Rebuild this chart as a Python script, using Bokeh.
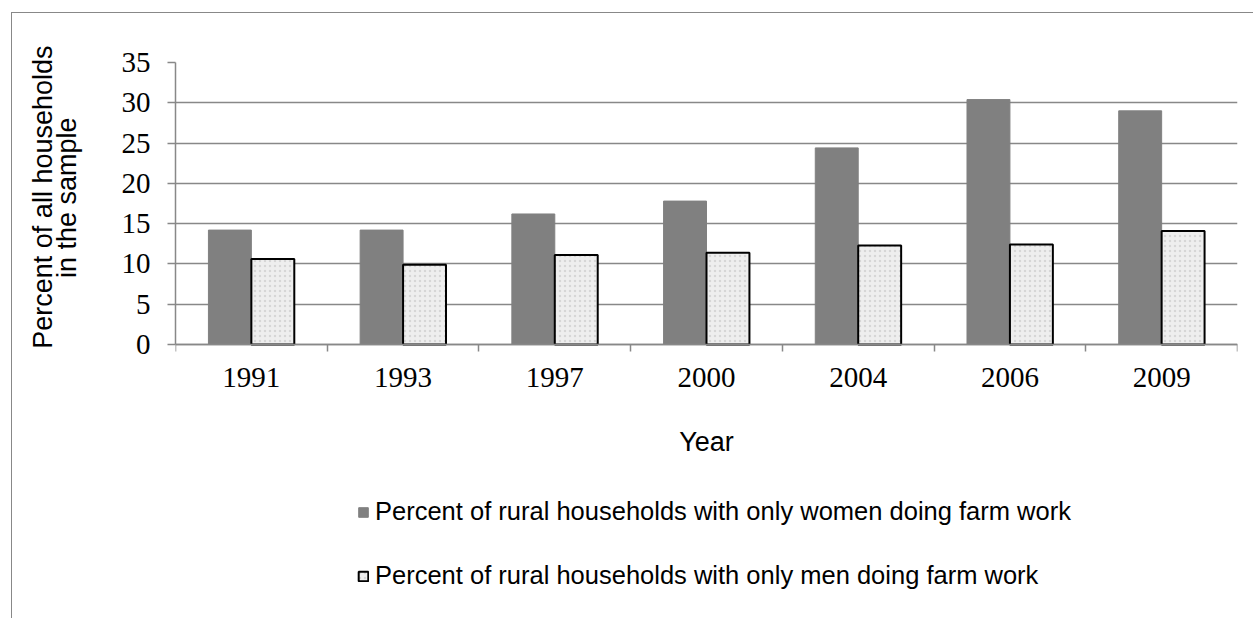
from bokeh.plotting import figure
from bokeh.models import FixedTicker, Legend, LegendItem, Range1d, ColumnDataSource, Title
from bokeh.embed import file_html
from bokeh.resources import INLINE

years = ["1991", "1993", "1997", "2000", "2004", "2006", "2009"]
women = [14.2, 14.2, 16.2, 17.8, 24.4, 30.4, 29.0]
men = [10.6, 9.9, 11.1, 11.4, 12.3, 12.4, 14.1]
y_ticks = [0, 5, 10, 15, 20, 25, 30, 35]
label_women = "Percent of rural households with only women doing farm work"
label_men = "Percent of rural households with only men doing farm work"
y_title_1 = "Percent of all households"
y_title_2 = "in the sample"
x_title = "Year"

n = len(years)
centers = [i + 0.5 for i in range(n)]
bar_w = 0.283
off = 0.1415

# layout constants (window pixels)
FRAME_TOP, AXIS_Y, WIN_H = 62, 344, 619
Y_MAX = 35
plot_px = AXIS_Y - FRAME_TOP
y_min = -Y_MAX * (WIN_H - AXIS_Y) / plot_px   # extend range below 0 so legend sits inside frame

src = ColumnDataSource(dict(
    xw=[c - off for c in centers],
    xm=[c + off for c in centers],
    women=women, men=men,
))

grey = "#888888"

# canvas origin sits at (12, 13) in the window because of margin + 1px border
p = figure(width=1242, height=606, output_backend="svg", toolbar_location=None,
           x_range=Range1d(0, n), y_range=Range1d(y_min, Y_MAX),
           min_border_left=163, min_border_right=17, min_border_top=49, min_border_bottom=0,
           background_fill_color="white", border_fill_color="white",
           margin=(12, 0, 0, 11),
           styles={"border-top": "1px solid #888888", "border-left": "1px solid #888888"})
p.outline_line_color = None

r_w = p.vbar(x="xw", top="women", width=bar_w, source=src,
             fill_color="#808080", line_color="#808080", line_width=1)
r_m = p.vbar(x="xm", top="men", width=bar_w, source=src,
             fill_color="#eeeeee", line_color="black", line_width=2,
             hatch_pattern="dot", hatch_color="#d6d6d6", hatch_scale=5, hatch_weight=1.5)

# grid
p.xgrid.visible = False
p.ygrid.grid_line_color = grey
p.ygrid.grid_line_width = 1.5
p.ygrid.ticker = FixedTicker(ticks=y_ticks)

# y axis (axis label used only as a spacer)
ya = p.yaxis[0]
ya.ticker = FixedTicker(ticks=y_ticks)
ya.bounds = (0, Y_MAX)
ya.axis_line_color = grey
ya.axis_line_width = 1.5
ya.major_tick_line_color = grey
ya.major_tick_line_width = 1.5
ya.major_tick_out = 8
ya.major_tick_in = 0
ya.minor_tick_line_color = None
ya.major_label_text_font = "Liberation Serif"
ya.major_label_text_font_size = "29px"
ya.major_label_text_color = "black"
ya.major_label_standoff = 17
ya.axis_label = " "
ya.axis_label_text_font_size = "1px"
ya.axis_label_standoff = 33

# two-line y title as left-side titles, positioned along the axis by offset
t2 = Title(text=y_title_2, align="right", offset=55, vertical_align="bottom", standoff=0,
           text_font="Liberation Sans", text_font_size="27px", text_font_style="normal",
           text_color="black")
t1 = Title(text=y_title_1, align="right", offset=-17, vertical_align="bottom", standoff=-16,
           text_font="Liberation Sans", text_font_size="27px", text_font_style="normal",
           text_color="black")
p.add_layout(t2, "left")
p.add_layout(t1, "left")

# x axis, drawn at y = 0 inside the frame
xa = p.xaxis[0]
xa.fixed_location = 0
xa.ticker = FixedTicker(ticks=centers, minor_ticks=list(range(n + 1)))
xa.major_label_overrides = {c: y for c, y in zip(centers, years)}
xa.axis_line_color = grey
xa.axis_line_width = 1.5
xa.major_tick_line_color = None
xa.major_tick_out = 0
xa.major_tick_in = 0
xa.minor_tick_line_color = grey
xa.minor_tick_line_width = 1.5
xa.minor_tick_out = 7
xa.minor_tick_in = 0
xa.major_label_text_font = "Liberation Serif"
xa.major_label_text_font_size = "29px"
xa.major_label_text_color = "black"
xa.major_label_standoff = 16
xa.axis_label = x_title
xa.axis_label_text_font = "Liberation Sans"
xa.axis_label_text_font_size = "27px"
xa.axis_label_text_font_style = "normal"
xa.axis_label_text_color = "black"
xa.axis_label_standoff = 37

# legend inside the (extended) frame, below the axis
legend = Legend(items=[LegendItem(label=label_women, renderers=[r_w]),
                       LegendItem(label=label_men, renderers=[r_m])],
                location=(182, 29), orientation="vertical",
                padding=0, margin=0, spacing=35,
                glyph_width=12, glyph_height=12, label_height=20,
                label_standoff=6,
                label_text_font="Liberation Sans", label_text_font_size="25.5px",
                label_text_color="black",
                border_line_color=None, background_fill_alpha=0)
p.add_layout(legend)

open("out.html", "w").write(file_html(p, INLINE))
